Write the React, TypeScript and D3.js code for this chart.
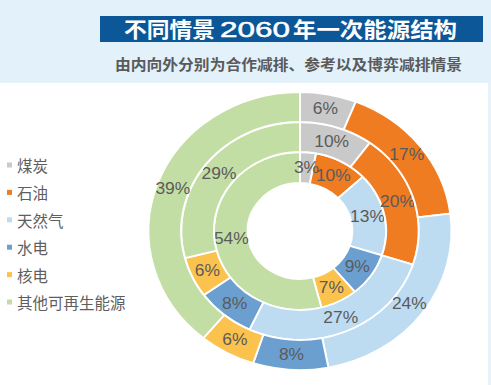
import React from "react";
import * as d3 from "d3";

const categories = ["煤炭", "石油", "天然气", "水电", "核电", "其他可再生能源"];
const colors = ["#c9c9c9", "#f07c22", "#bddcf1", "#6b9fd0", "#fcc24e", "#c3dea4"];

// inner ring: 合作减排 (slice sizes as drawn, text as printed)
const coopValues = [3, 10, 17, 9, 7, 54];
const coopLabels = ["3%", "10%", "13%", "9%", "7%", "54%"];
// middle ring: 参考
const refValues = [10, 20, 27, 8, 6, 29];
// outer ring: 博弈减排
const gameValues = [6, 17, 24, 8, 6, 39];

const width = 491;
const height = 385;
const cx = 300;
const cy = 231;
const sx = 1.09;

const rings = [
  { values: coopValues, labels: coopLabels, r0: 48, r1: 79 },
  { values: refValues, labels: refValues.map((v) => `${v}%`), r0: 79, r1: 109 },
  { values: gameValues, labels: gameValues.map((v) => `${v}%`), r0: 109, r1: 139 },
];

const pie = d3
  .pie<number>()
  .sort(null)
  .value((d) => d)
  .startAngle(0)
  .endAngle(2 * Math.PI);

const legendY = d3.scalePoint<string>().domain(categories).range([165, 302]);

const App: React.FC = () => {
  return (
    <svg
      width={width}
      height={height}
      style={{ position: "absolute", left: 0, top: 0, display: "block", background: "#ffffff" }}
    >
      <rect x={0} y={0} width={width} height={83} fill="#e2f1fa" />
      <rect x={488} y={83} width={3} height={height - 83} fill="#e6f3fb" />

      <rect x={100} y={16} width={383} height={26} fill="#0b5798" />
      <g fill="#ffffff" fontFamily="'Noto Sans CJK SC', sans-serif" fontWeight="bold" fontSize={21}>
        <text x={124} y={37} textLength={91} lengthAdjust="spacingAndGlyphs">不同情景</text>
        <text
          x={220}
          y={37}
          textLength={70}
          lengthAdjust="spacingAndGlyphs"
          fontFamily="'Liberation Sans', Arial, sans-serif"
          fontWeight="normal"
          fontSize={22}
          stroke="#ffffff"
          strokeWidth={0.5}
        >
          2060
        </text>
        <text x={293} y={37} textLength={164} lengthAdjust="spacingAndGlyphs">年一次能源结构</text>
      </g>
      <text
        x={115}
        y={70}
        textLength={347}
        lengthAdjust="spacingAndGlyphs"
        fill="#5a5a5a"
        fontFamily="'Noto Sans CJK SC', sans-serif"
        fontWeight="bold"
        fontSize={14.5}
      >
        由内向外分别为合作减排、参考以及博弈减排情景
      </text>

      <g fontFamily="'Noto Sans CJK SC', sans-serif" fontSize={15.5} fill="#5e5e5e">
        {categories.map((c, i) => (
          <g key={c} transform={`translate(0,${legendY(c)})`}>
            <rect x={7} y={-2.5} width={5} height={5} fill={colors[i]} />
            <text x={17} y={0} dominantBaseline="central">
              {c}
            </text>
          </g>
        ))}
      </g>

      <g transform={`translate(${cx},${cy}) scale(${sx},1)`}>
        {rings.map((ring, ri) => {
          const arc = d3.arc<d3.PieArcDatum<number>>().innerRadius(ring.r0).outerRadius(ring.r1);
          const arcs = pie(ring.values);
          return (
            <g key={ri}>
              {arcs.map((a, i) => (
                <path key={i} d={arc(a) || ""} fill={colors[i]} stroke="#ffffff" strokeWidth={1.8} />
              ))}
              {arcs.map((a, i) => {
                const [x, y] = arc.centroid(a);
                return (
                  <text
                    key={"t" + i}
                    x={x}
                    y={y}
                    textAnchor="middle"
                    dominantBaseline="central"
                    fontFamily="'Liberation Sans', Arial, sans-serif"
                    fontSize={16}
                    fill="#5b5b5b"
                  >
                    {ring.labels[i]}
                  </text>
                );
              })}
            </g>
          );
        })}
      </g>
    </svg>
  );
};

export default App;
